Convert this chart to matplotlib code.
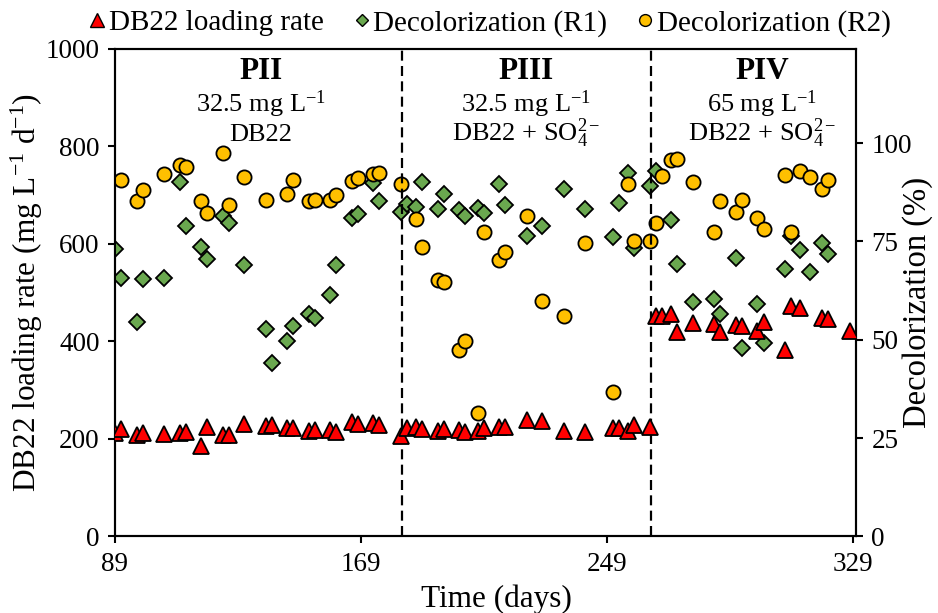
import matplotlib
matplotlib.use("Agg")
import matplotlib.pyplot as plt
from matplotlib.lines import Line2D

plt.rcParams['font.family'] = ['Liberation Serif', 'DejaVu Serif']
plt.rcParams['mathtext.fontset'] = 'custom'
plt.rcParams['mathtext.rm'] = 'Liberation Serif'
plt.rcParams['mathtext.it'] = 'Liberation Serif:italic'
plt.rcParams['mathtext.bf'] = 'Liberation Serif:bold'

# DB22 loading rate (mg L-1 d-1)
load_days = [89, 91, 96, 98, 105, 110, 112, 117, 119, 124, 126, 131, 138, 140, 145, 147,
             152, 154, 159, 161, 166, 168, 173, 175, 182,
             184, 187, 189, 194, 196, 201, 203, 207, 209, 214, 216, 223, 228, 235, 242,
             251, 253, 256, 258, 263,
             265, 267, 270, 272, 277, 284, 286, 291, 293, 298, 300, 307, 309, 312, 319, 321, 328]
load_rate = [213, 220, 208, 212, 210, 213, 215, 186, 224, 207, 207, 230, 227, 228, 222, 222,
             217, 219, 219, 214, 234, 230, 232, 229, 206,
             222, 225, 220, 217, 220, 218, 214, 217, 222, 225, 225, 238, 236, 217, 215,
             222, 222, 217, 229, 224,
             451, 451, 457, 420, 438, 436, 420, 434, 432, 421, 439, 383, 472, 469, 448, 445, 421]

# Decolorization, reactor R1 (%)
r1_days = [89, 91, 96, 98, 105, 110, 112, 117, 119, 124, 126, 131, 138, 140, 145, 147,
           152, 154, 159, 161, 166, 168, 173, 175, 182,
           184, 187, 189, 194, 196, 201, 203, 207, 209, 214, 216, 223, 228, 235, 242,
           251, 253, 256, 258, 263, 265, 270,
           272, 277, 284, 286, 291, 293, 298, 300, 307, 309, 312, 315, 319, 321]
r1_decol = [73.1, 65.7, 54.4, 65.5, 65.8, 90.0, 78.9, 73.6, 70.5, 81.5, 79.7, 69.1, 52.7, 44.2,
            49.7, 53.6, 56.5, 55.5, 61.3, 69.1, 80.9, 82.0, 89.8, 85.3, 82.6,
            84.6, 83.7, 90.2, 83.3, 87.0, 83.0, 81.5, 83.5, 82.2, 89.6, 84.3, 76.4, 78.9, 88.3, 83.2,
            76.0, 84.7, 92.5, 73.3, 89.1, 92.8, 80.5,
            69.3, 59.7, 60.3, 56.5, 70.7, 48.0, 59.1, 49.2, 68.0, 76.3, 72.9, 67.1, 74.7, 71.9]

# Decolorization, reactor R2 (%)
r2_days = [91, 96, 98, 105, 110, 112, 117, 119, 124, 126, 131, 138, 145, 147, 152, 154,
           159, 161, 166, 168, 173, 175, 182,
           187, 189, 194, 196, 201, 203, 207, 209, 214, 216, 223, 228, 235, 242, 251, 256, 258, 263,
           265, 267, 270, 272, 277, 284, 286, 291, 293, 298, 300, 307, 309, 312, 315, 319, 321]
r2_decol = [90.7, 85.3, 88.1, 92.1, 94.5, 93.8, 85.2, 82.2, 97.5, 84.3, 91.3, 85.6, 87.0, 90.6,
            85.2, 85.6, 85.6, 86.8, 90.4, 91.1, 92.1, 92.3, 89.6,
            80.8, 73.5, 65.1, 64.7, 47.3, 49.6, 31.4, 77.3, 70.3, 72.4, 81.5, 59.9, 56.1, 74.7,
            36.7, 89.6, 75.0, 75.2,
            79.8, 91.7, 95.6, 96.0, 90.2, 77.5, 85.4, 82.6, 85.6, 80.9, 78.2, 91.9, 77.4, 93.0,
            91.5, 88.4, 90.7]

# Phase boundaries and phase descriptions
phase_bounds = [182.5, 263.5]
phase_x = [136.5, 222.7, 299.5]
phase_names = ["PII", "PIII", "PIV"]
phase_conc = ["32.5 mg L$^{\\mathregular{-1}}$", "32.5 mg L$^{\\mathregular{-1}}$",
              "65 mg L$^{\\mathregular{-1}}$"]
phase_feed = ["DB22", "DB22 + SO$_{\\mathregular{4}}^{\\mathregular{2-}}$",
              "DB22 + SO$_{\\mathregular{4}}^{\\mathregular{2-}}$"]

x_ticks = [89, 169, 249, 329]
left_ticks = [0, 200, 400, 600, 800, 1000]
right_ticks = [0, 25, 50, 75, 100]

RED = "#FF0000"
GREEN = "#6AA84F"
YELLOW = "#FFC000"
BG = "#FFF8E8"

fig = plt.figure(figsize=(9.38, 6.13), dpi=100)
ax = fig.add_axes([0.1226, 0.1250, 0.7900, 0.7955])
ax2 = ax.twinx()

# the twin carries the background; the loading-rate axes sits on top
ax2.set_facecolor(BG)
ax.set_zorder(ax2.get_zorder() + 1)
ax.patch.set_visible(False)

ax2.plot(r1_days, r1_decol, linestyle='none', marker='D', markersize=8.0,
         markerfacecolor=GREEN, markeredgecolor='black', markeredgewidth=1.3, zorder=3)
ax2.plot(r2_days, r2_decol, linestyle='none', marker='o', markersize=10.2,
         markerfacecolor=YELLOW, markeredgecolor='black', markeredgewidth=1.3, zorder=4)
ax.plot(load_days, load_rate, linestyle='none', marker='^', markersize=11,
        markerfacecolor=RED, markeredgecolor='black', markeredgewidth=1.3, zorder=5)

for xb in phase_bounds:
    ax.axvline(xb, color='black', linestyle=(0, (4.5, 2.4)), linewidth=1.6, zorder=2)

for xp, name, conc, feed in zip(phase_x, phase_names, phase_conc, phase_feed):
    ax.text(xp, 953, name, ha='center', va='center', fontsize=22.5, fontweight='bold')
    ax.text(xp, 870, conc, ha='center', va='baseline', fontsize=19)
    ax.text(xp, 810, feed, ha='center', va='baseline', fontsize=19)

ax.set_xlim(89, 330.1)
ax.set_ylim(0, 1000)
ax2.set_ylim(0, 124)
ax.set_xticks(x_ticks)
ax.set_yticks(left_ticks)
ax2.set_yticks(right_ticks)

for a in (ax, ax2):
    for s in a.spines.values():
        s.set_linewidth(1.5)
        s.set_color('black')
ax.tick_params(axis='both', direction='out', length=5, width=1.5, labelsize=19.5, pad=6)
ax2.tick_params(axis='y', direction='out', length=5, width=1.5, labelsize=19.5, pad=6)

ax.set_xlabel("Time (days)", fontsize=22.5, va='center')
ax.xaxis.set_label_coords(0.515, -0.128)
ax.set_ylabel("DB22 loading rate (mg L$^{\\mathregular{-1}}$ d$^{\\mathregular{-1}}$)",
              fontsize=22.5, va='center')
ax.yaxis.set_label_coords(-0.119, 0.50)
ax2.set_ylabel("Decolorization (%)", fontsize=23.5, va='center')
ax2.yaxis.set_label_coords(1.0835, 0.48)

handles = [
    Line2D([], [], linestyle='none', marker='^', markersize=10, markerfacecolor=RED,
           markeredgecolor='black', markeredgewidth=1.0, label='DB22 loading rate'),
    Line2D([], [], linestyle='none', marker='D', markersize=6.5, markerfacecolor=GREEN,
           markeredgecolor='black', markeredgewidth=1.0, label='Decolorization (R1)'),
    Line2D([], [], linestyle='none', marker='o', markersize=8.5, markerfacecolor=YELLOW,
           markeredgecolor='black', markeredgewidth=1.0, label='Decolorization (R2)'),
]
fig.legend(handles=handles, loc='center', bbox_to_anchor=(0.522, 0.962), ncol=3,
           frameon=False, fontsize=21, handlelength=0.6, handletextpad=0.1,
           columnspacing=1.0, borderaxespad=0)

fig.savefig("out.png", dpi=100)
